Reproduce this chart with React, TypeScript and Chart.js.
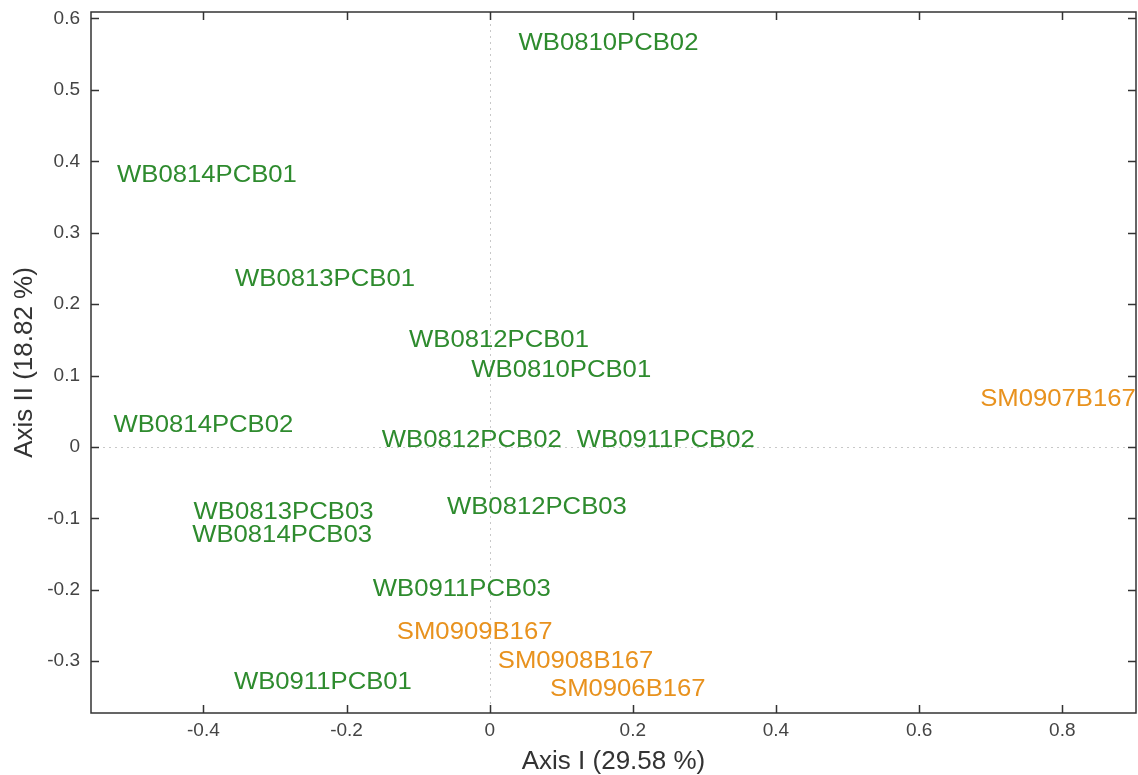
import { useEffect, useRef } from 'react';
import { Chart, registerables } from 'chart.js';

Chart.register(...registerables);

// ---- data ----
const sampleLabels = [
  'WB0810PCB02', 'WB0814PCB01', 'WB0813PCB01', 'WB0812PCB01', 'WB0810PCB01',
  'WB0814PCB02', 'WB0812PCB02', 'WB0911PCB02', 'WB0813PCB03', 'WB0814PCB03',
  'WB0812PCB03', 'WB0911PCB03', 'WB0911PCB01',
  'SM0907B167', 'SM0909B167', 'SM0908B167', 'SM0906B167',
];
const axis1Values = [
  0.166, -0.395, -0.230, 0.013, 0.100,
  -0.400, -0.025, 0.246, -0.288, -0.290,
  0.066, -0.039, -0.233,
  0.794, -0.021, 0.120, 0.193,
];
const axis2Values = [
  0.569, 0.384, 0.239, 0.153, 0.112,
  0.034, 0.013, 0.014, -0.088, -0.120,
  -0.080, -0.195, -0.325,
  0.071, -0.256, -0.296, -0.335,
];
const sampleGroups = [
  'WB', 'WB', 'WB', 'WB', 'WB',
  'WB', 'WB', 'WB', 'WB', 'WB',
  'WB', 'WB', 'WB',
  'SM', 'SM', 'SM', 'SM',
];
const groupNames = ['WB', 'SM'];
const groupColors = ['#2e8b2e', '#e8921e'];
const xTickValues = [-0.4, -0.2, 0, 0.2, 0.4, 0.6, 0.8];
const yTickValues = [-0.3, -0.2, -0.1, 0, 0.1, 0.2, 0.3, 0.4, 0.5, 0.6];
const xRange = [-0.557, 0.903];
const yRange = [-0.3725, 0.609];
const xTitle = 'Axis I (29.58 %)';
const yTitle = 'Axis II (18.82 %)';

const FONT = "'Liberation Sans', Arial, Helvetica, sans-serif";

const labelPlugin = {
  id: 'pcoaLabels',
  beforeDatasetsDraw(chart: any) {
    const { ctx, chartArea } = chart;
    const xs = chart.scales.x;
    const ys = chart.scales.y;
    ctx.save();
    ctx.strokeStyle = '#c8c8c8';
    ctx.lineWidth = 1;
    ctx.setLineDash([2, 4]);
    const x0 = Math.round(xs.getPixelForValue(0)) + 0.5;
    const y0 = Math.round(ys.getPixelForValue(0)) + 0.5;
    ctx.beginPath();
    ctx.moveTo(x0, chartArea.top);
    ctx.lineTo(x0, chartArea.bottom);
    ctx.moveTo(chartArea.left, y0);
    ctx.lineTo(chartArea.right, y0);
    ctx.stroke();
    ctx.restore();
  },
  afterDatasetsDraw(chart: any) {
    const { ctx } = chart;
    ctx.save();
    ctx.font = `24px ${FONT}`;
    ctx.textAlign = 'center';
    ctx.textBaseline = 'middle';
    chart.data.datasets.forEach((ds: any, di: number) => {
      const meta = chart.getDatasetMeta(di);
      ctx.fillStyle = ds.borderColor;
      meta.data.forEach((el: any, i: number) => {
        ctx.save();
        ctx.translate(el.x, el.y + 3);
        ctx.scale(1.07, 1);
        ctx.fillText(ds.data[i].label, 0, 0);
        ctx.restore();
      });
    });
    ctx.restore();
  },
  afterDraw(chart: any) {
    const { ctx, chartArea } = chart;
    const { left, right, top, bottom } = chartArea;
    const xs = chart.scales.x;
    const ys = chart.scales.y;
    const tl = 8;
    ctx.save();
    ctx.strokeStyle = '#333';
    ctx.lineWidth = 1.5;
    ctx.setLineDash([]);
    ctx.strokeRect(left, top, right - left, bottom - top);
    ctx.beginPath();
    xTickValues.forEach((v) => {
      const px = Math.round(xs.getPixelForValue(v)) + 0.5;
      ctx.moveTo(px, bottom);
      ctx.lineTo(px, bottom - tl);
      ctx.moveTo(px, top);
      ctx.lineTo(px, top + tl);
    });
    yTickValues.forEach((v) => {
      const py = Math.round(ys.getPixelForValue(v)) + 0.5;
      ctx.moveTo(left, py);
      ctx.lineTo(left + tl, py);
      ctx.moveTo(right, py);
      ctx.lineTo(right - tl, py);
    });
    ctx.stroke();
    ctx.restore();
  },
};

export default function App() {
  const canvasRef = useRef<HTMLCanvasElement | null>(null);

  useEffect(() => {
    if (!canvasRef.current) return;
    const datasets = groupNames.map((g, gi) => ({
      label: g,
      data: sampleLabels
        .map((lab, i) => ({ x: axis1Values[i], y: axis2Values[i], label: lab, g: sampleGroups[i] }))
        .filter((p) => p.g === g),
      borderColor: groupColors[gi],
      backgroundColor: groupColors[gi],
      pointRadius: 0,
      pointHoverRadius: 0,
    }));

    const chart = new Chart(canvasRef.current, {
      type: 'scatter',
      data: { datasets },
      plugins: [labelPlugin],
      options: {
        animation: false,
        responsive: true,
        maintainAspectRatio: false,
        layout: { padding: { top: 12, right: 2, left: 0, bottom: 0 } },
        plugins: {
          legend: { display: false },
          tooltip: { enabled: false },
        },
        events: [],
        scales: {
          x: {
            type: 'linear',
            min: xRange[0],
            max: xRange[1],
            afterBuildTicks: (s: any) => {
              s.ticks = xTickValues.map((v) => ({ value: v }));
            },
            afterFit: (s: any) => {
              s.height = 62;
              s.paddingLeft = 0;
              s.paddingRight = 0;
            },
            grid: { display: false, drawTicks: false },
            border: { display: false },
            ticks: {
              padding: 6,
              color: '#444',
              font: { size: 19, family: FONT },
              maxRotation: 0,
              autoSkip: false,
              callback: (v: any) => String(v),
            },
            title: {
              display: true,
              text: xTitle,
              color: '#333',
              font: { size: 26, family: FONT },
              padding: { top: 0, bottom: -2 },
            },
          },
          y: {
            type: 'linear',
            min: yRange[0],
            max: yRange[1],
            afterBuildTicks: (s: any) => {
              s.ticks = yTickValues.map((v) => ({ value: v }));
            },
            afterFit: (s: any) => {
              s.width = 91;
              s.paddingTop = 0;
              s.paddingBottom = 0;
            },
            grid: { display: false, drawTicks: false },
            border: { display: false },
            ticks: {
              padding: 11,
              color: '#444',
              font: { size: 19, family: FONT },
              autoSkip: false,
              callback: (v: any) => String(v),
            },
            title: {
              display: true,
              text: yTitle,
              color: '#333',
              font: { size: 26, family: FONT },
              padding: { top: 9, bottom: 0 },
            },
          },
        },
      },
    });
    return () => chart.destroy();
  }, []);

  return (
    <div style={{ position: 'absolute', left: 0, top: 0, width: 1138, height: 775, background: '#fff' }}>
      <canvas ref={canvasRef} />
    </div>
  );
}
